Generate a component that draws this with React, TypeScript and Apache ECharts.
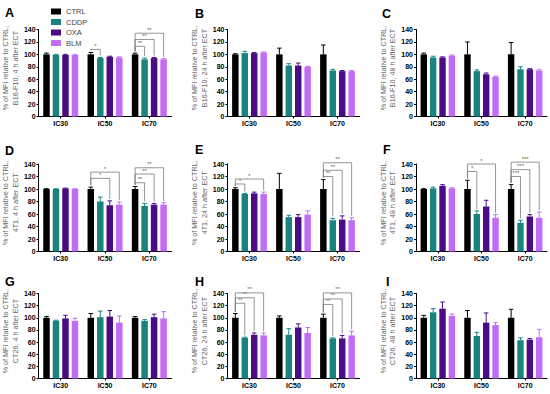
import React, { useEffect, useRef } from "react";
import * as echarts from "echarts";

const categories = ["IC30", "IC50", "IC70"];
const seriesNames = ["CTRL", "CDDP", "OXA", "BLM"];
const seriesColors = ["#000000", "#178481", "#4a0c83", "#c26cf5"];
const panelLetters = ["A", "B", "C", "D", "E", "F", "G", "H", "I"];
const yAxisNames = [
  "% of MFI relative to CTRL,\nB16-F10, 4 h after ECT",
  "% of MFI relative to CTRL,\nB16-F10, 24 h after ECT",
  "% of MFI relative to CTRL,\nB16-F10, 48 h after ECT",
  "% of MFI relative to CTRL,\n4T1, 4 h after ECT",
  "% of MFI relative to CTRL,\n4T1, 24 h after ECT",
  "% of MFI relative to CTRL,\n4T1, 48 h after ECT",
  "% of MFI relative to CTRL,\nCT26, 4 h after ECT",
  "% of MFI relative to CTRL,\nCT26, 24 h after ECT",
  "% of MFI relative to CTRL,\nCT26, 48 h after ECT",
];
const yMin = 0;
const yMax = 140;
const yInterval = 20;

// means: rows CTRL, CDDP, OXA, BLM; columns IC30, IC50, IC70
const meansA = [[100, 100, 100], [99, 94, 92], [99, 96, 94], [99, 95, 92]];
const errsA = [[2, 3, 2], [1, 1, 2], [1, 1, 1], [1, 1, 1]];
const meansB = [[100, 100, 100], [102, 82, 74], [102, 82, 73], [103, 80, 73]];
const errsB = [[1, 10, 15], [3, 3, 2], [1, 4, 1], [1, 1, 1]];
const meansC = [[100, 100, 100], [95, 73, 76], [95, 68, 76], [98, 64, 74]];
const errsC = [[2, 20, 19], [2, 2, 4], [1, 2, 1], [1, 1, 2]];
const meansD = [[100, 100, 100], [100, 80, 73], [101, 74, 75], [100, 75, 75]];
const errsD = [[0.5, 3, 4], [0.5, 7, 4], [0.5, 7, 2], [0.5, 4, 3]];
const meansE = [[100, 100, 100], [92, 55, 50], [93, 55, 51], [92, 59, 50]];
const errsE = [[2, 25, 15], [1, 3, 3], [2, 4, 6], [3, 6, 4]];
const meansF = [[100, 100, 100], [101, 60, 46], [105, 72, 56], [101, 54, 54]];
const errsF = [[0.5, 14, 7], [2, 5, 4], [2, 10, 3], [1, 5, 9]];
const meansG = [[100, 100, 100], [95, 101, 95], [99, 102, 101], [95, 92, 99]];
const errsG = [[2, 7, 2], [1, 10, 2], [5, 10, 5], [4, 11, 11]];
const meansH = [[100, 100, 100], [67, 72, 66], [72, 84, 66], [71, 75, 71]];
const errsH = [[7, 3, 6], [1, 10, 1], [3, 6, 5], [4, 9, 7]];
const meansI = [[100, 100, 100], [109, 70, 63], [115, 92, 64], [103, 88, 68]];
const errsI = [[4, 12, 14], [6, 6, 4], [11, 16, 2], [3, 4, 13]];

// significance brackets: [category index, compared series index, bracket level, label]
const bracketsA: [number, number, number, string][] = [[1, 1, 108, "*"], [2, 1, 113, "**"], [2, 2, 124, "**"], [2, 3, 134, "**"]];
const bracketsB: [number, number, number, string][] = [];
const bracketsC: [number, number, number, string][] = [];
const bracketsD: [number, number, number, string][] = [[1, 2, 117, "*"], [1, 3, 127, "*"], [2, 1, 110, "**"], [2, 2, 124, "**"], [2, 3, 134, "**"]];
const bracketsE: [number, number, number, string][] = [[0, 1, 108, "*"], [0, 3, 116, "*"], [2, 1, 120, "**"], [2, 2, 130, "**"], [2, 3, 142, "**"]];
const bracketsF: [number, number, number, string][] = [[1, 1, 128, "*"], [1, 3, 140, "*"], [2, 1, 120, "***"], [2, 2, 131, "***"], [2, 3, 143, "***"]];
const bracketsG: [number, number, number, string][] = [];
const bracketsH: [number, number, number, string][] = [[0, 1, 124, "**"], [0, 2, 133, "**"], [0, 3, 141, "**"], [2, 1, 122, "**"], [2, 2, 131, "**"], [2, 3, 141, "**"]];
const bracketsI: [number, number, number, string][] = [];

const panelMeans = [meansA, meansB, meansC, meansD, meansE, meansF, meansG, meansH, meansI];
const panelErrs = [errsA, errsB, errsC, errsD, errsE, errsF, errsG, errsH, errsI];
const panelBrackets = [bracketsA, bracketsB, bracketsC, bracketsD, bracketsE, bracketsF, bracketsG, bracketsH, bracketsI];

// layout
const colLeft = [38.5, 227.5, 416];
const colWidth = [133, 132, 131];
const rowTop = [29.5, 164, 293.5];
const rowHeight = [87, 87.5, 85];
const letterPos = [[5, 6], [195, 7], [382, 7], [5, 144], [195, 143], [383, 143], [5, 275], [195, 275], [386, 275]];

const CAT_GAP = 0.21;
const BAR_GAP = 0.46;
const FONT = "Arial, 'Liberation Sans', sans-serif";
const BRACKET_COLOR = "#7a7a7a";

function barOffset(band: number, i: number) {
  const groupW = band * (1 - CAT_GAP);
  const w = groupW / (4 + 3 * BAR_GAP);
  return { off: -groupW / 2 + i * w * (1 + BAR_GAP) + w / 2, w };
}

function buildOption() {
  const grid: any[] = [];
  const xAxis: any[] = [];
  const yAxis: any[] = [];
  const series: any[] = [];
  const title: any[] = [];

  for (let p = 0; p < 9; p++) {
    const r = Math.floor(p / 3);
    const c = p % 3;
    grid.push({ left: colLeft[c], top: rowTop[r], width: colWidth[c], height: rowHeight[r], containLabel: false });
    xAxis.push({
      type: "category",
      gridIndex: p,
      data: categories,
      axisLine: { lineStyle: { color: "#000", width: 1 } },
      axisTick: { show: true, alignWithLabel: true, length: 2, lineStyle: { color: "#000" } },
      axisLabel: { fontSize: 7, fontWeight: "bold", color: "#000", margin: 3, fontFamily: FONT },
    });
    yAxis.push({
      type: "value",
      gridIndex: p,
      min: yMin,
      max: yMax,
      interval: yInterval,
      name: yAxisNames[p],
      nameLocation: "middle",
      nameGap: 16,
      nameTextStyle: { fontSize: 7.2, color: "#666", lineHeight: 9.5, fontFamily: FONT, padding: [0, 0, 0, 10] },
      axisLine: { show: true, lineStyle: { color: "#000", width: 1 } },
      axisTick: { show: true, length: 2, lineStyle: { color: "#000" } },
      splitLine: { show: false },
      axisLabel: { fontSize: 7, fontWeight: "bold", color: "#000", margin: 3, fontFamily: FONT },
    });
    title.push({
      text: panelLetters[p],
      left: letterPos[p][0],
      top: letterPos[p][1],
      padding: 0,
      textStyle: { fontSize: 12.5, fontWeight: "bold", color: "#000", fontFamily: FONT },
    });

    const means = panelMeans[p];
    const errs = panelErrs[p];
    for (let s = 0; s < 4; s++) {
      series.push({
        type: "bar",
        name: seriesNames[s],
        xAxisIndex: p,
        yAxisIndex: p,
        data: means[s],
        barGap: BAR_GAP * 100 + "%",
        barCategoryGap: CAT_GAP * 100 + "%",
        itemStyle: { color: seriesColors[s] },
        z: 2,
      });
    }
    const errData: number[][] = [];
    for (let s = 0; s < 4; s++) {
      for (let k = 0; k < 3; k++) {
        errData.push([k, means[s][k] + errs[s][k], means[s][k], s]);
      }
    }
    series.push({
      type: "custom",
      xAxisIndex: p,
      yAxisIndex: p,
      z: 3,
      clip: false,
      silent: true,
      itemStyle: { color: "#000" },
      data: errData,
      encode: { x: 0, y: [1, 2] },
      renderItem: (params: any, api: any) => {
        const k = api.value(0);
        const hi = api.value(1);
        const lo = api.value(2);
        const s = api.value(3);
        const band = api.size([1, 0])[0];
        const { off, w } = barOffset(band, s);
        const pHi = api.coord([k, hi]);
        const pLo = api.coord([k, lo]);
        const x = pHi[0] + off;
        const col = seriesColors[s];
        const cap = w * 0.35;
        return {
          type: "group",
          children: [
            { type: "line", shape: { x1: x, y1: pLo[1], x2: x, y2: pHi[1] }, style: { stroke: col, lineWidth: 1 } },
            { type: "line", shape: { x1: x - cap, y1: pHi[1], x2: x + cap, y2: pHi[1] }, style: { stroke: col, lineWidth: 1 } },
          ],
        };
      },
    });

    const brackets = panelBrackets[p];
    if (brackets.length) {
      series.push({
        type: "custom",
        xAxisIndex: p,
        yAxisIndex: p,
        z: 4,
        clip: false,
        silent: true,
        itemStyle: { color: BRACKET_COLOR },
        data: brackets.map((b) => [b[0], b[2], b[1]]),
        encode: { x: 0, y: 1 },
        renderItem: (params: any, api: any) => {
          const k = api.value(0);
          const level = api.value(1);
          const t = api.value(2);
          const label = brackets[params.dataIndex][3];
          const band = api.size([1, 0])[0];
          const o0 = barOffset(band, 0).off;
          const o1 = barOffset(band, t).off;
          const pLev = api.coord([k, level]);
          const leftBottom = api.coord([k, means[0][k] + errs[0][k] + 3])[1];
          const rightBottom = api.coord([k, means[t][k] + errs[t][k] + 3])[1];
          const xl = pLev[0] + o0;
          const xr = pLev[0] + o1;
          const y = pLev[1];
          return {
            type: "group",
            children: [
              { type: "line", shape: { x1: xl, y1: y, x2: xr, y2: y }, style: { stroke: BRACKET_COLOR, lineWidth: 0.8 } },
              { type: "line", shape: { x1: xl, y1: y, x2: xl, y2: leftBottom }, style: { stroke: BRACKET_COLOR, lineWidth: 0.8 } },
              { type: "line", shape: { x1: xr, y1: y, x2: xr, y2: rightBottom }, style: { stroke: BRACKET_COLOR, lineWidth: 0.8 } },
              {
                type: "text",
                style: {
                  text: label,
                  x: (xl + xr) / 2,
                  y: y - 0.5,
                  align: "center",
                  verticalAlign: "bottom",
                  fontSize: 6,
                  fill: "#666666",
                  fontFamily: FONT,
                },
              },
            ],
          };
        },
      });
    }
  }

  return {
    animation: false,
    backgroundColor: "#ffffff",
    textStyle: { fontFamily: FONT },
    title,
    legend: {
      data: seriesNames,
      orient: "vertical",
      left: 46,
      top: 2,
      itemWidth: 10,
      itemHeight: 6,
      itemGap: 1.5,
      icon: "rect",
      textStyle: { fontSize: 7.5, color: "#444", fontFamily: FONT, lineHeight: 9 },
      selectedMode: false,
    },
    grid,
    xAxis,
    yAxis,
    series,
  };
}

export default function App() {
  const ref = useRef<HTMLDivElement>(null);
  useEffect(() => {
    if (!ref.current) return;
    const chart = echarts.init(ref.current, undefined, { renderer: "svg" });
    chart.setOption(buildOption() as any);
    return () => chart.dispose();
  }, []);
  return <div ref={ref} style={{ width: 550, height: 394, position: "absolute", left: 0, top: 0 }} />;
}
